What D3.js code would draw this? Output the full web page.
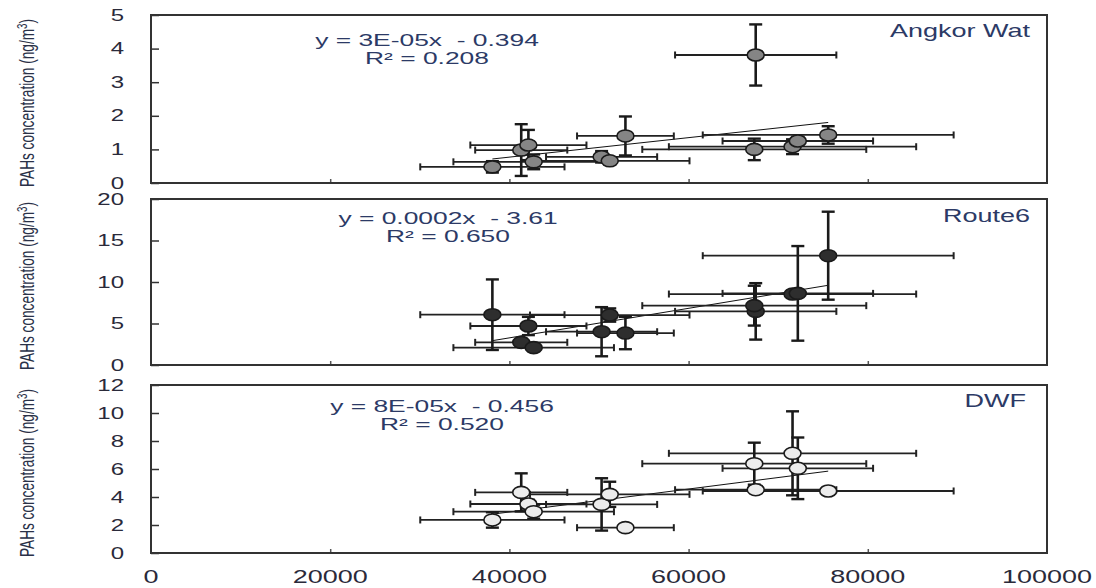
<!DOCTYPE html>
<html>
<head>
<meta charset="utf-8">
<script src="https://cdn.jsdelivr.net/npm/d3@7/dist/d3.min.js"></script>
<style>
  html, body { margin: 0; padding: 0; background: #fff; }
  text { font-family: "Liberation Sans", Arial, sans-serif; }
</style>
</head>
<body>
<svg id="chart" width="1096" height="588"></svg>
<script>
// ---- Data ----
const xVals  = [38100, 41320, 42120, 42710, 50290, 51200, 52950, 67490, 67330, 71600, 72190, 75580];
const xErr   = [8050, 5140, 6480, 8960, 6200, 8900, 5400, 9000, 12500, 13800, 8400, 14000];

const angkorY   = [0.48, 0.98, 1.13, 0.63, 0.78, 0.66, 1.40, 3.81, 1.00, 1.08, 1.25, 1.43];
const angkorErr = [0.17, 0.77, 0.45, 0.22, 0.17, 0.10, 0.58, 0.91, 0.32, 0.22, 0.12, 0.26];

const route6Y   = [6.06, 2.73, 4.70, 2.09, 4.01, 6.02, 3.85, 6.46, 7.15, 8.55, 8.63, 13.17];
const route6Err = [4.25, 0.40, 1.10, 0.30, 2.96, 0.80, 1.95, 3.40, 2.40, 0.30, 5.70, 5.30];

const dwfY   = [2.36, 4.33, 3.50, 2.95, 3.47, 4.19, 1.81, 4.52, 6.38, 7.12, 6.05, 4.43];
const dwfErr = [0.55, 1.36, 0.30, 0.50, 1.87, 0.90, 0.00, 0.00, 1.50, 3.00, 2.20, 0.00];

const panelNames = ["Angkor Wat", "Route6", "DWF"];
const equations  = ["y = 3E-05x  - 0.394", "y = 0.0002x  - 3.61", "y = 8E-05x  - 0.456"];
const r2Labels   = ["R\u00B2 = 0.208", "R\u00B2 = 0.650", "R\u00B2 = 0.520"];
const trendSlope     = [2.9e-5, 1.78e-4, 8.2e-5];
const trendIntercept = [-0.39, -3.85, -0.35];
const yMax       = [5, 20, 12];
const yTicks     = [[0,1,2,3,4,5], [0,5,10,15,20], [0,2,4,6,8,10,12]];
const xTicks     = [0, 20000, 40000, 60000, 80000, 100000];
const markerFill = ["#858585", "#2e2e2e", "#ececec"];

const seriesY   = [angkorY, route6Y, dwfY];
const seriesErr = [angkorErr, route6Err, dwfErr];

// ---- Layout ----
const left = 151, right = 1047;
const panels = [
  {top: 15,  bottom: 183, eq: [427, 45.5, 64],  title: [1030, 37]},
  {top: 199, bottom: 365, eq: [448, 223.5, 242], title: [1030, 222]},
  {top: 385, bottom: 553, eq: [442, 411.5, 430], title: [1026, 407]}
];
const SX = 1.5; // horizontal stretch of text in the reference

const svg = d3.select("#chart");
const x = d3.scaleLinear().domain([0, 100000]).range([left, right]);

function sText(parent, px, py, str, size, anchor, fill, sx) {
  const t = parent.append("g")
    .attr("transform", `translate(${px},${py}) scale(${sx || SX},1)`)
    .append("text")
    .attr("text-anchor", anchor)
    .attr("font-size", size)
    .attr("fill", fill)
    .style("white-space", "pre")
    .text(str);
  return t;
}

panels.forEach((p, i) => {
  const y = d3.scaleLinear().domain([0, yMax[i]]).range([p.bottom, p.top]);
  const g = svg.append("g");

  // y ticks (inward)
  const ya = g.append("g").attr("transform", `translate(${left},0)`)
    .call(d3.axisLeft(y).tickValues(yTicks[i]).tickSize(-8).tickFormat(""));
  ya.select(".domain").remove();
  ya.selectAll("line").attr("stroke", "#333").attr("stroke-width", 1.5);

  // x ticks (inward)
  const xa = g.append("g").attr("transform", `translate(0,${p.bottom})`)
    .call(d3.axisBottom(x).tickValues(xTicks.slice(1, 5)).tickSize(-4).tickFormat(""));
  xa.select(".domain").remove();
  xa.selectAll("line").attr("stroke", "#555").attr("stroke-width", 1.5);

  // frame
  g.append("rect").attr("x", left).attr("y", p.top)
    .attr("width", right - left).attr("height", p.bottom - p.top)
    .attr("fill", "none").attr("stroke", "#333").attr("stroke-width", 2);

  // y tick labels
  yTicks[i].forEach(t => {
    sText(g, 124, y(t) + 5.5, String(t), 16, "end", "#2a2a3a");
  });

  // y-axis title (stretched horizontally like the rest of the reference)
  const tt = g.append("text")
    .attr("transform", `translate(34,${(p.top + p.bottom) / 2 + 4}) scale(1.5,1) rotate(-90)`)
    .attr("text-anchor", "middle")
    .attr("font-size", 14)
    .attr("fill", "#2a3148")
    .attr("textLength", 168)
    .attr("lengthAdjust", "spacingAndGlyphs");
  tt.append("tspan").text("PAHs concentration (ng/m");
  tt.append("tspan").attr("font-size", 10).attr("dy", -5).text("3");
  tt.append("tspan").attr("dy", 5).text(")");

  // trend line
  const xMin = d3.min(xVals), xMaxV = d3.max(xVals);
  g.append("line")
    .attr("x1", x(xMin)).attr("y1", y(trendSlope[i] * xMin + trendIntercept[i]))
    .attr("x2", x(xMaxV)).attr("y2", y(trendSlope[i] * xMaxV + trendIntercept[i]))
    .attr("stroke", "#111").attr("stroke-width", 1);

  const data = xVals.map((xv, k) => ({x: xv, xe: xErr[k], y: seriesY[i][k], ye: seriesErr[i][k]}));

  // horizontal error bars
  data.forEach(d => {
    const cy = y(d.y);
    g.append("line").attr("x1", x(d.x - d.xe)).attr("x2", x(d.x + d.xe))
      .attr("y1", cy).attr("y2", cy).attr("stroke", "#222").attr("stroke-width", 1.8);
    [d.x - d.xe, d.x + d.xe].forEach(e => {
      g.append("line").attr("x1", x(e)).attr("x2", x(e))
        .attr("y1", cy - 3.5).attr("y2", cy + 3.5).attr("stroke", "#222").attr("stroke-width", 2);
    });
  });
  // vertical error bars
  data.forEach(d => {
    if (d.ye <= 0) return;
    const cx = x(d.x);
    g.append("line").attr("x1", cx).attr("x2", cx)
      .attr("y1", y(d.y + d.ye)).attr("y2", y(d.y - d.ye))
      .attr("stroke", "#1a1a1a").attr("stroke-width", 2.6);
    [d.y - d.ye, d.y + d.ye].forEach(e => {
      g.append("line").attr("x1", cx - 6.5).attr("x2", cx + 6.5)
        .attr("y1", y(e)).attr("y2", y(e)).attr("stroke", "#1a1a1a").attr("stroke-width", 2.4);
    });
  });
  // markers
  g.selectAll("ellipse.pt").data(data).join("ellipse")
    .attr("class", "pt")
    .attr("cx", d => x(d.x)).attr("cy", d => y(d.y))
    .attr("rx", 8.5).attr("ry", 6)
    .attr("fill", markerFill[i]).attr("stroke", "#1a1a1a").attr("stroke-width", 1.6);

  // equation and R²
  sText(g, p.eq[0], p.eq[1], equations[i], 16, "middle", "#2c3a66", 1.65);
  sText(g, p.eq[0], p.eq[2], r2Labels[i], 16, "middle", "#2c3a66", 1.65);

  // panel title
  sText(g, p.title[0], p.title[1], panelNames[i], 18, "end", "#2c3a66");
});

// x tick labels under the bottom panel
xTicks.forEach(t => {
  sText(svg, x(t), 583, String(t), 18, "middle", "#2a2a3a");
});
</script>
</body>
</html>
